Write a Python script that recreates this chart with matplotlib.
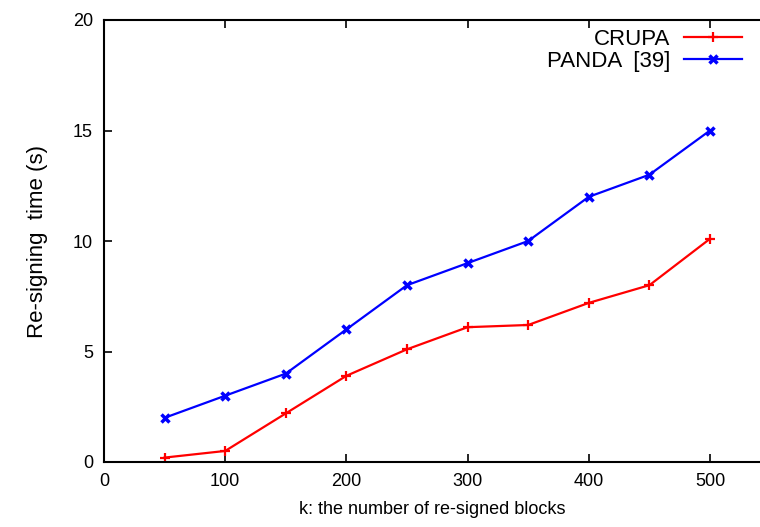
import matplotlib
matplotlib.use("Agg")
import matplotlib.pyplot as plt

k = [50, 100, 150, 200, 250, 300, 350, 400, 450, 500]
crupa = [0.2, 0.5, 2.2, 3.9, 5.1, 6.1, 6.2, 7.2, 8.0, 10.1]
panda = [2, 3, 4, 6, 8, 9, 10, 12, 13, 15]
xticks = [0, 100, 200, 300, 400, 500]
yticks = [0, 5, 10, 15, 20]

plt.rcParams['font.family'] = ['Liberation Sans', 'DejaVu Sans']
fig = plt.figure(figsize=(7.6, 5.27), dpi=100)
ax = fig.add_axes([104/760, 65/527, 656/760, 442/527])

ax.plot(k, crupa, color='#ff0000', lw=1.6, marker='+', ms=7, mew=1.6, label='CRUPA')
ax.plot(k, panda, color='#0000ff', lw=1.6, marker='x', ms=6, mew=2.5, label='PANDA  [39]')

ax.set_xlim(0, 656/1.212)
ax.set_ylim(0, 20)
ax.set_xticks(xticks)
ax.set_yticks(yticks)
ax.tick_params(direction='in', top=True, right=False, length=6, width=1.2,
               labelsize=13, pad=8)
ax.spines['right'].set_visible(False)
for s in ['left', 'bottom', 'top']:
    ax.spines[s].set_linewidth(1.5)

ax.set_xlabel('k: the number of re-signed blocks', fontsize=13, labelpad=8)
ax.set_ylabel('Re-signing  time (s)', fontsize=16, labelpad=18)

leg = ax.legend(loc='upper right', bbox_to_anchor=(0.996, 1.015), frameon=False,
                fontsize=16, markerfirst=False, handlelength=2.6,
                handletextpad=0.6, labelspacing=0.05, borderaxespad=0.3)
for t in leg.get_texts():
    t.set_ha('right')
leg._legend_box.align = 'right'

fig.savefig('out.png', dpi=100)
